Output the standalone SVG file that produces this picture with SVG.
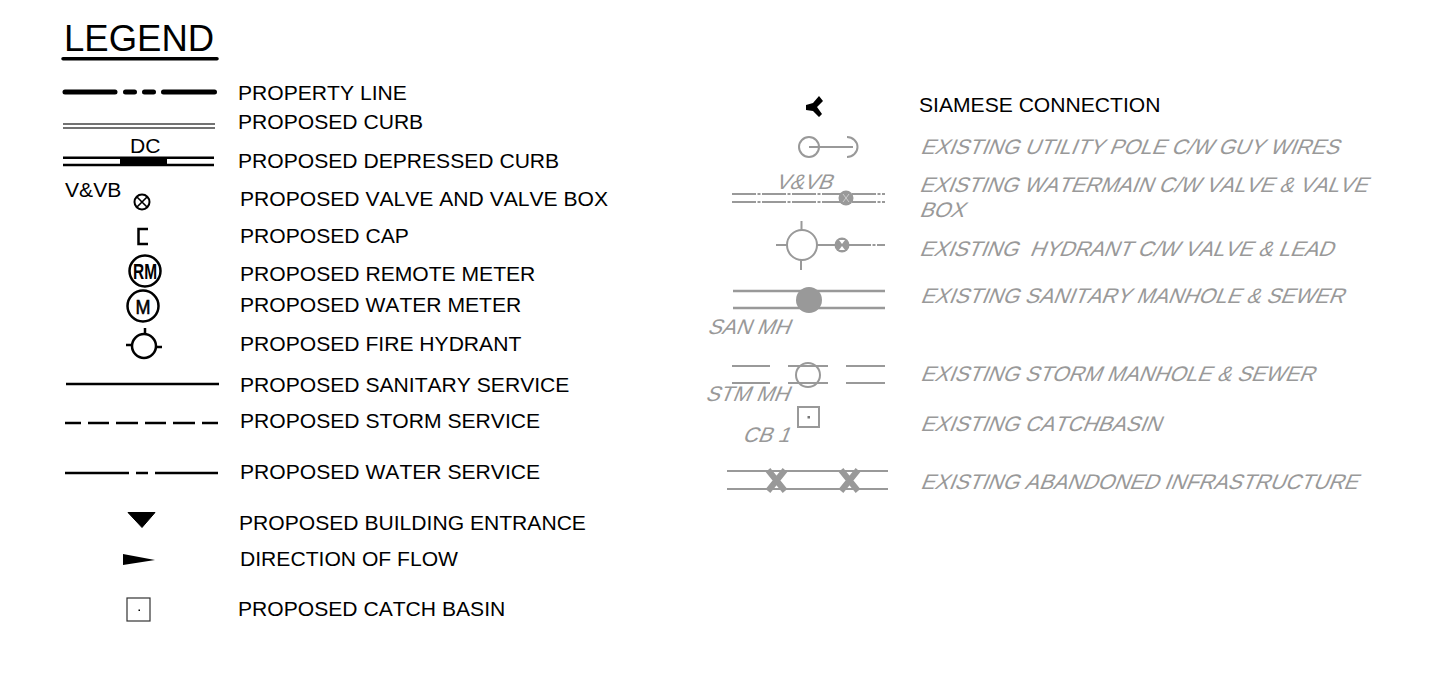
<svg xmlns="http://www.w3.org/2000/svg" width="1438" height="696" viewBox="0 0 1438 696">
<style>
text{font-family:"Liberation Sans",Arial,sans-serif;font-size:21.100px;fill:#000;font-kerning:none}
.e{fill:#999}
.k{fill:none;stroke:#000;stroke-width:2.500}
.g{fill:none;stroke:#999;stroke-width:2}
.dd{stroke-dasharray:24 1.500 3 1.500}
</style>
<rect width="1438" height="696" fill="#fff"/>
<g id="title"><text x="64" y="51" style="font-size:36.500px">LEGEND</text><line x1="63" y1="58.700" x2="217" y2="58.700" stroke="#000" stroke-width="3.500" stroke-linecap="round"/></g>
<g id="connectors">
<path d="M65 92H115M125.500 92H134.500M144.500 92H153.500M163.500 92H214.500" fill="none" stroke="#000" stroke-width="5" stroke-linecap="round"/>
<path d="M63 124H215M63 128H215" fill="none" stroke="#444" stroke-width="1.500"/>
<path d="M63 157.700H214M63 165H214" fill="none" stroke="#000" stroke-width="2.500"/>
<rect x="120" y="157" width="47" height="9"/>
<path class="k" d="M66 384H219"/>
<path class="k" d="M65 423H81M88 423H109M116 423H138M145 423H166M173 423H195M202 423H218"/>
<path class="k" d="M65 473H129M136 473H148M155 473H218"/>
<path class="g dd" d="M732 194H885M732 202H885"/>
<path class="g dd" d="M817 245H885"/>
<path class="g" style="stroke-width:2.500" d="M733 291H885M733 308H885"/>
<path class="g" d="M732 366H770M788 366H828M846 366H885M732 383H770M788 383H828M846 383H885"/>
<path class="g" d="M727 471H888M727 489H888"/>
</g>
<g id="property-line"><text x="238" y="100">PROPERTY LINE</text></g>
<g id="curb"><text x="238" y="129">PROPOSED CURB</text></g>
<g id="depressed-curb"><text x="130" y="153">DC</text><text x="238" y="168">PROPOSED DEPRESSED CURB</text></g>
<g id="valve"><text x="65" y="197">V&amp;VB</text><circle cx="142" cy="202" r="7.500" class="k" style="stroke-width:2"/><path class="k" style="stroke-width:1.600" d="M137 197L147 207M147 197L137 207"/><text x="240" y="206">PROPOSED VALVE AND VALVE BOX</text></g>
<g id="cap"><path d="M148 229H138.500V244H148" class="k"/><text x="240" y="243">PROPOSED CAP</text></g>
<g id="remote-meter"><circle cx="145" cy="271" r="15.500" class="k"/><text x="145" y="279" text-anchor="middle" style="font-size:22px;font-weight:bold" textLength="24" lengthAdjust="spacingAndGlyphs">RM</text><text x="240" y="281">PROPOSED REMOTE METER</text></g>
<g id="water-meter"><circle cx="143" cy="306" r="15.500" class="k"/><text x="143" y="314" text-anchor="middle" style="font-size:21px" textLength="15" lengthAdjust="spacingAndGlyphs" stroke="#000" stroke-width=".6">M</text><text x="240" y="312">PROPOSED WATER METER</text></g>
<g id="fire-hydrant"><circle cx="144" cy="346" r="12" class="k"/><path class="k" d="M145 328V334M126 345H132M157 347H162"/><text x="240" y="351">PROPOSED FIRE HYDRANT</text></g>
<g id="sanitary"><text x="240" y="392">PROPOSED SANITARY SERVICE</text></g>
<g id="storm"><text x="240" y="428">PROPOSED STORM SERVICE</text></g>
<g id="water"><text x="240" y="479">PROPOSED WATER SERVICE</text></g>
<g id="entrance"><path d="M128 512.500H155L142 527.500Z" stroke="#000" stroke-linejoin="round"/><text x="239" y="530">PROPOSED BUILDING ENTRANCE</text></g>
<g id="flow"><path d="M123 554L155 560L123 565Z"/><text x="240" y="566">DIRECTION OF FLOW</text></g>
<g id="catch-basin"><rect x="127" y="598" width="23" height="23" fill="none" stroke="#333" stroke-width="1.200"/><rect x="138.500" y="609.500" width="1.500" height="1.500"/><text x="238" y="616">PROPOSED CATCH BASIN</text></g>
<g id="siamese"><path d="M819 96L823 101L817 107L822 114L819 117L813 111L806 110V105L813 103Z"/><text x="919" y="112">SIAMESE CONNECTION</text></g>
<g id="pole"><circle cx="809" cy="147" r="10" class="g"/><path class="g" d="M809 147H853M847 137A10.500 10 0 0 1 847 157"/><text class="e" transform="translate(920 154) skewX(-22)">EXISTING UTILITY POLE C/W GUY WIRES</text></g>
<g id="watermain"><text class="e" transform="translate(775 189) skewX(-22)">V&amp;VB</text><circle cx="846" cy="198" r="7.500" fill="#999"/><path d="M843 194L846 198L849 194M843 202L846 198L849 202" fill="none" stroke="#ccc"/><text class="e" transform="translate(919 192) skewX(-22)">EXISTING WATERMAIN C/W VALVE &amp; VALVE</text><text class="e" transform="translate(919 217) skewX(-22)">BOX</text></g>
<g id="ex-hydrant"><circle cx="802" cy="245" r="15" class="g"/><path class="g" d="M801.500 221V230M801 260V270M776 245H787"/><circle cx="842" cy="245" r="7.500" fill="#999"/><path d="M839 240H845L842 244ZM839 250H845L842 246Z" fill="#fff"/><text class="e" xml:space="preserve" transform="translate(919 256) skewX(-22)">EXISTING  HYDRANT C/W VALVE &amp; LEAD</text></g>
<g id="ex-sanitary"><circle cx="809" cy="300" r="13" fill="#999"/><text class="e" transform="translate(707 334) skewX(-22)">SAN MH</text><text class="e" transform="translate(920 303) skewX(-22)">EXISTING SANITARY MANHOLE &amp; SEWER</text></g>
<g id="ex-storm"><circle cx="808" cy="375" r="12" class="g"/><text class="e" transform="translate(705 401) skewX(-22)">STM MH</text><text class="e" transform="translate(920 381) skewX(-22)">EXISTING STORM MANHOLE &amp; SEWER</text></g>
<g id="ex-catchbasin"><rect x="798" y="407" width="21" height="20" class="g"/><rect x="807.500" y="416" width="2.500" height="2.500" fill="#777"/><text class="e" transform="translate(742 442) skewX(-22)">CB 1</text><text class="e" transform="translate(920 431) skewX(-22)">EXISTING CATCHBASIN</text></g>
<g id="ex-abandoned"><path d="M768 470L785 491M785 470L768 491M841 470L858 491M858 470L841 491" fill="none" stroke="#999" stroke-width="6"/><text class="e" transform="translate(920 489) skewX(-22)">EXISTING ABANDONED INFRASTRUCTURE</text></g>
</svg>
